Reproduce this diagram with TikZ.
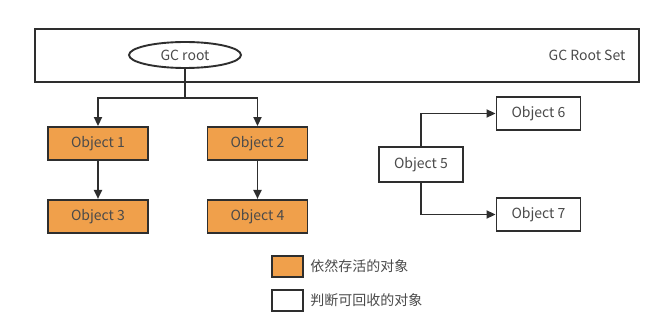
\documentclass[tikz,border=0pt]{standalone}
\usepackage{fontspec}
\setmainfont{Noto Sans CJK SC}
\usetikzlibrary{positioning,shapes.geometric,arrows.meta}

\definecolor{alive}{HTML}{F0A04B}
\definecolor{edge}{HTML}{2E2E2E}
\definecolor{txt}{HTML}{4A4A4A}

\begin{document}
\begin{tikzpicture}[x=1pt, y=-1pt,
    every node/.style={text=txt, font=\fontsize{14}{16}\selectfont},
    obj/.style={draw=edge, line width=1.9pt, minimum width=100pt, minimum height=33pt},
    live/.style={obj, fill=alive},
    dead/.style={obj, fill=white, minimum width=84pt},
    key/.style={draw=edge, line width=1.9pt, minimum width=31pt, minimum height=21pt},
    uni/.style={draw=edge, line width=1.9pt, -{Triangle[length=9pt, width=8pt]}}
]
    \useasboundingbox (0,0) rectangle (662,329);

    % Root set
    \node[draw=edge, line width=1.9pt, anchor=north west, minimum width=604pt, minimum height=53pt] (rootset) at (34,28) {};
    \node[anchor=east] (setname) at (629,55) {GC Root Set};
    \node[ellipse, draw=edge, line width=1.9pt, minimum width=112pt, minimum height=26pt] (gcroot) at (185,55) {GC root};

    % Reachable objects
    \node[live] at (98,143.5) (obj1) {Object 1};
    \node[live] at (257.5,143.5) (obj2) {Object 2};
    \node[live, below=38pt of obj1] (obj3) {Object 3};
    \node[live, below=38pt of obj2] (obj4) {Object 4};

    % Unreachable objects
    \node[dead, minimum height=35pt] at (421,164.5) (obj5) {Object 5};
    \node[dead] at (538.5,113.5) (obj6) {Object 6};
    \node[dead] at (538.5,214.5) (obj7) {Object 7};

    \draw[draw=edge, line width=1.9pt] (gcroot.south) -- ++(0,29) coordinate (fork);
    \draw[uni] (fork) -| (obj1);
    \draw[uni] (fork) -| (obj2);
    \draw[uni] (obj1) -- (obj3);
    \draw[uni] (obj2) -- (obj4);

    \draw[uni] (obj5.north) |- (obj6);
    \draw[uni] (obj5.south) |- (obj7);

    % Legend
    \node[key, fill=alive] at (287.5,266.5) (keya) {};
    \node[key, fill=white] at (287.5,300.5) (keyb) {};
    \node[right=3pt of keya] (texta) {依然存活的对象};
    \node[right=3pt of keyb] (textb) {判断可回收的对象};
\end{tikzpicture}
\end{document}
